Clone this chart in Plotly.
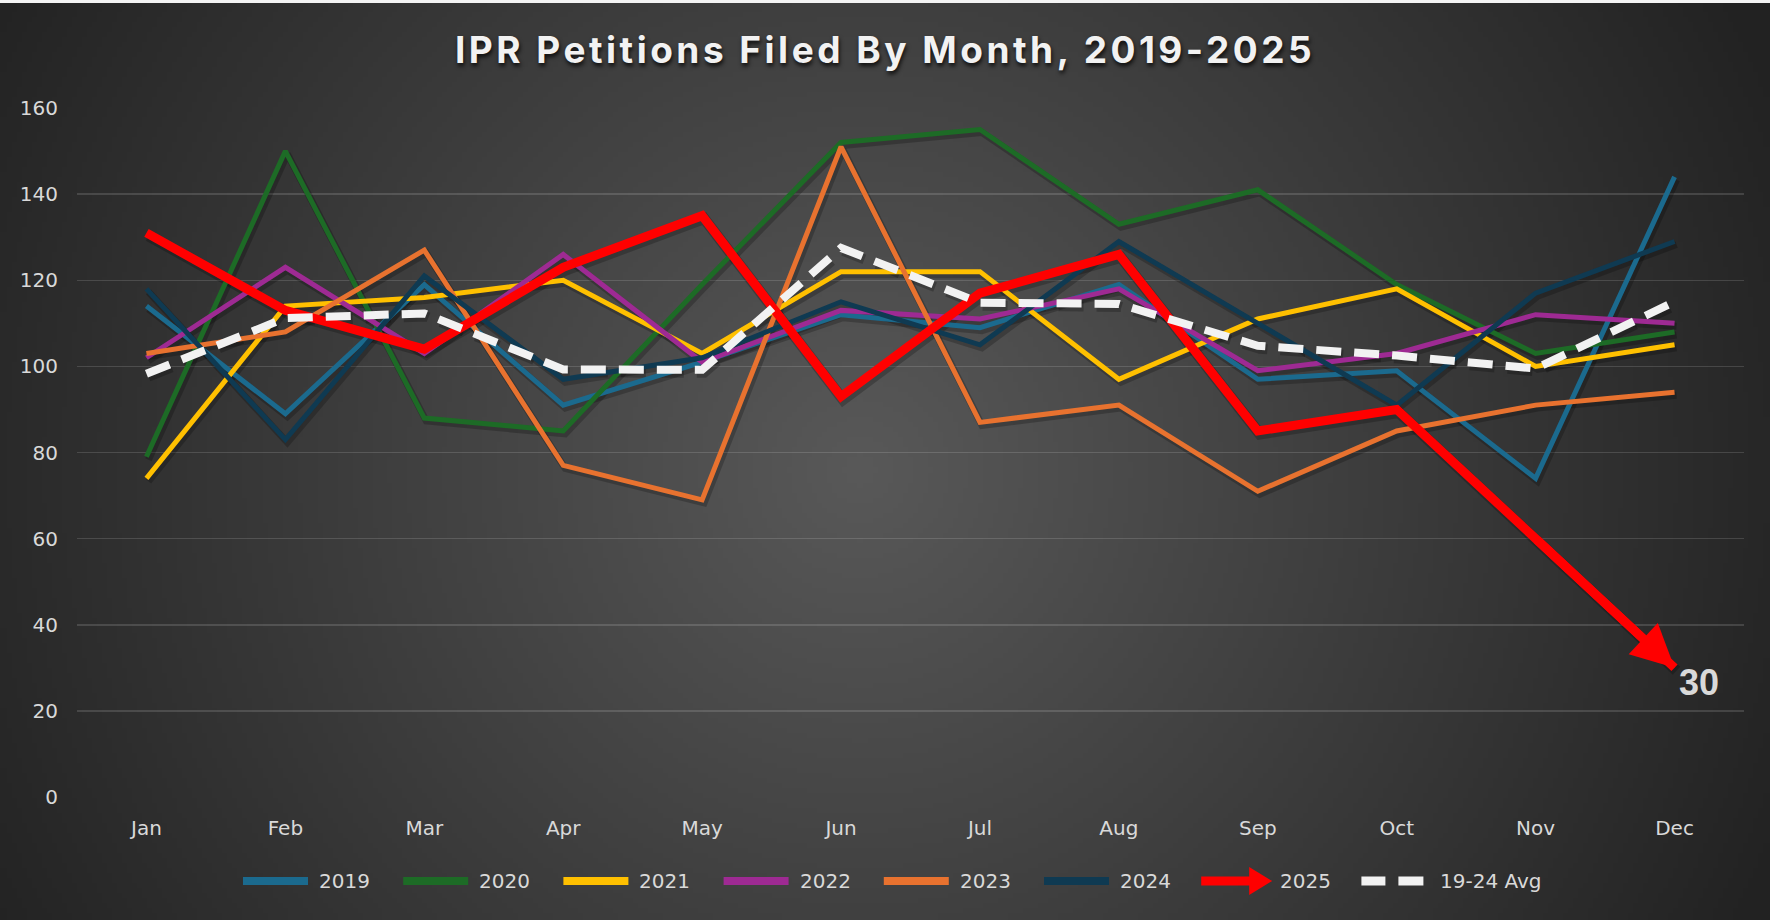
import base64, struct, zlib
import numpy as np
import plotly.graph_objects as go

# ---------------- data ----------------
months = ["Jan", "Feb", "Mar", "Apr", "May", "Jun", "Jul", "Aug", "Sep", "Oct", "Nov", "Dec"]
y2019 = [114, 89, 119, 91, 101, 112, 109, 119, 97, 99, 74, 144]
y2020 = [79, 150, 88, 85, 119, 152, 155, 133, 141, 119, 103, 108]
y2021 = [74, 114, 116, 120, 103, 122, 122, 97, 111, 118, 100, 105]
y2022 = [102, 123, 103, 126, 101, 113, 111, 118, 99, 103, 112, 110]
y2023 = [103, 108, 127, 77, 69, 151, 87, 91, 71, 85, 91, 94]
y2024 = [118, 83, 121, 97, 102, 115, 105, 129, 110, 91, 117, 129]
y2025 = [131, 113, 104, 123, 135, 93, 117, 126, 85, 90, 60, 30]
avg_19_24 = [98.3, 111.2, 112.3, 99.3, 99.2, 127.5, 114.8, 114.5, 104.8, 102.5, 99.5, 115.0]
y_ticks = [0, 20, 40, 60, 80, 100, 120, 140, 160]

series_names = ["2019", "2020", "2021", "2022", "2023", "2024"]
series_vals = [y2019, y2020, y2021, y2022, y2023, y2024]
series_colors = ["#1b6a8e", "#1d6b26", "#ffc000", "#9e2a93", "#e8722f", "#0f3a52"]

# ---------------- layout geometry ----------------
W, H = 1770, 920
ML, MR, MT, MB = 77, 26, 108, 123
PW = W - ML - MR
PH = H - MT - MB
TXT = "#d9d9d9"
FONT = "DejaVu Sans, Verdana, sans-serif"
Y_MAX = 160
N = len(months)
# drop-shadow offset (pixels) expressed in axis units
SH_DX = 2.0 * N / PW
SH_DY = 3.0 * Y_MAX / PH
SHADOW = "rgba(0,0,0,0.22)"
# trim the 2025 line under its arrow head (pixels)
BACKOFF = [0] * (N - 1) + [24]


def pxx(x):
    return (x - ML) / PW


def pxy(y):
    return (H - MB - y) / PH


# ---------------- background radial gradient as png ----------------
def gradient_png(w, h):
    xs = (np.arange(w) + 0.5) / w * W
    ys = (np.arange(h) + 0.5) / h * H
    X, Y = np.meshgrid(xs, ys)
    d = np.sqrt((X - 860) ** 2 + (Y - 470) ** 2) / 1000.0
    t = np.clip(d, 0, 1)
    c = 0x59 + (0x22 - 0x59) * t
    c = np.clip(c, 0, 255).astype(np.uint8)
    rgb = np.stack([c, c, c], axis=-1)
    raw = b"".join(b"\x00" + rgb[r].tobytes() for r in range(h))

    def chunk(tag, data):
        return struct.pack(">I", len(data)) + tag + data + struct.pack(">I", zlib.crc32(tag + data) & 0xffffffff)

    png = b"\x89PNG\r\n\x1a\n" + chunk(b"IHDR", struct.pack(">IIBBBBB", w, h, 8, 2, 0, 0, 0)) \
        + chunk(b"IDAT", zlib.compress(raw, 9)) + chunk(b"IEND", b"")
    return "data:image/png;base64," + base64.b64encode(png).decode()


fig = go.Figure()

# shadows (base axes x/y, offset a few pixels down-right)
for vals in series_vals:
    fig.add_trace(go.Scatter(x=months, y=vals, mode="lines", xaxis="x", yaxis="y",
                             line=dict(color=SHADOW, width=7),
                             hoverinfo="skip", showlegend=False))
fig.add_trace(go.Scatter(x=months, y=y2025, mode="lines", xaxis="x", yaxis="y",
                         line=dict(color=SHADOW, width=11, backoff=BACKOFF),
                         hoverinfo="skip", showlegend=False))
fig.add_trace(go.Scatter(x=months, y=avg_19_24, mode="lines", xaxis="x", yaxis="y",
                         line=dict(color=SHADOW, width=10, dash="25px,13px"),
                         hoverinfo="skip", showlegend=False))

# main series
for name, vals, col in zip(series_names, series_vals, series_colors):
    fig.add_trace(go.Scatter(x=months, y=vals, name=name, mode="lines", xaxis="x2", yaxis="y2",
                             line=dict(color=col, width=5), showlegend=False))

fig.add_trace(go.Scatter(x=months, y=y2025, name="2025", mode="lines", xaxis="x2", yaxis="y2",
                         line=dict(color="#ff0000", width=9, backoff=BACKOFF), showlegend=False))

fig.add_trace(go.Scatter(x=months, y=avg_19_24, name="19-24 Avg", mode="lines", xaxis="x2", yaxis="y2",
                         line=dict(color="#f2f2f2", width=8, dash="25px,13px"),
                         showlegend=False))

# arrow head on the last 2025 segment
fig.add_annotation(x=months[-1], y=y2025[-1], ax=months[-2], ay=y2025[-2],
                   xref="x2", yref="y2", axref="x2", ayref="y2", text="", showarrow=True,
                   arrowhead=2, arrowsize=0.95, arrowwidth=9, arrowcolor="#ff0000", standoff=0)

# last value label
fig.add_annotation(x=months[-1], y=y2025[-1], xref="x2", yref="y2", text="<b>%d</b>" % y2025[-1],
                   showarrow=False, xshift=24, yshift=-15,
                   font=dict(family="Liberation Sans, Arial", size=36, color=TXT))

# ---------------- manual legend ----------------
shapes = []
leg_y = 881
all_names = series_names + ["2025", "19-24 Avg"]
for i, name in enumerate(all_names):
    x0 = 240 + 160.2 * i
    x1 = x0 + 71
    if i < len(series_names):
        shapes.append(dict(type="line", xref="paper", yref="paper", x0=pxx(x0 + 3), x1=pxx(x1 - 3),
                           y0=pxy(leg_y), y1=pxy(leg_y),
                           line=dict(color=series_colors[i], width=8)))
    elif name == "2025":
        shapes.append(dict(type="line", xref="paper", yref="paper", x0=pxx(x0), x1=pxx(x1 - 20),
                           y0=pxy(leg_y), y1=pxy(leg_y), line=dict(color="#ff0000", width=9)))
        path = "M %f %f L %f %f L %f %f Z" % (pxx(x1 - 23), pxy(leg_y - 14), pxx(x1), pxy(leg_y),
                                               pxx(x1 - 23), pxy(leg_y + 14))
        shapes.append(dict(type="path", xref="paper", yref="paper", path=path,
                           fillcolor="#ff0000", line=dict(width=0)))
    else:
        for a, b in [(x0, x0 + 24), (x0 + 37, x0 + 62)]:
            shapes.append(dict(type="line", xref="paper", yref="paper", x0=pxx(a), x1=pxx(b),
                               y0=pxy(leg_y), y1=pxy(leg_y), line=dict(color="#f2f2f2", width=9)))
    fig.add_annotation(x=pxx(x1 + 6), y=pxy(leg_y), xref="paper", yref="paper", text=name,
                       showarrow=False, xanchor="left", yanchor="middle",
                       font=dict(family=FONT, size=20, color=TXT))

# thin white strip at the very top
shapes.append(dict(type="rect", xref="paper", yref="paper", x0=pxx(0), x1=pxx(W),
                   y0=pxy(3), y1=pxy(0), fillcolor="#f4f4f4", line=dict(width=0), layer="above"))

hidden = dict(showgrid=False, zeroline=False, showline=False, showticklabels=False, ticks="",
              automargin=False, fixedrange=True)

fig.update_layout(
    width=W, height=H,
    margin=dict(l=ML, r=MR, t=MT, b=MB, autoexpand=False),
    paper_bgcolor="#333333",
    plot_bgcolor="rgba(0,0,0,0)",
    shapes=shapes,
    images=[dict(source=gradient_png(354, 184), xref="paper", yref="paper",
                 x=pxx(0), y=pxy(0), sizex=W / PW, sizey=H / PH,
                 xanchor="left", yanchor="top", sizing="stretch", layer="below")],
    title=dict(
        text='<span style="letter-spacing:3.5px">IPR Petitions Filed By Month, 2019-2025</span>',
        x=0.5, xref="container", xanchor="center",
        y=1 - 50 / H, yref="container", yanchor="middle",
        font=dict(family="Inter, Liberation Sans, Arial", size=37, color="#f2f2f2", weight=700,
                  shadow="1px 3px 4px rgba(0,0,0,0.8)")),
    xaxis=dict(type="category", categoryorder="array", categoryarray=months,
               range=[-0.5 - SH_DX, N - 0.5 - SH_DX], **hidden),
    yaxis=dict(range=[SH_DY, Y_MAX + SH_DY], **hidden),
    xaxis2=dict(type="category", categoryorder="array", categoryarray=months, overlaying="x",
                range=[-0.5, N - 0.5], showgrid=False, zeroline=False, showline=False,
                ticks="", tickfont=dict(family=FONT, size=20, color=TXT), ticklabelstandoff=17,
                automargin=False, fixedrange=True, side="bottom"),
    yaxis2=dict(range=[0, Y_MAX], tickvals=y_ticks, overlaying="y", side="left",
                showgrid=True, gridcolor="rgba(255,255,255,0.14)",
                gridwidth=1.5, zeroline=False, showline=False, ticks="",
                tickfont=dict(family=FONT, size=20, color=TXT), ticklabelstandoff=18,
                automargin=False, fixedrange=True),
    showlegend=False,
    hovermode=False,
)

fig.write_html("out.html", config={"displayModeBar": False, "staticPlot": True},
               post_script="document.body.style.margin='0';")
